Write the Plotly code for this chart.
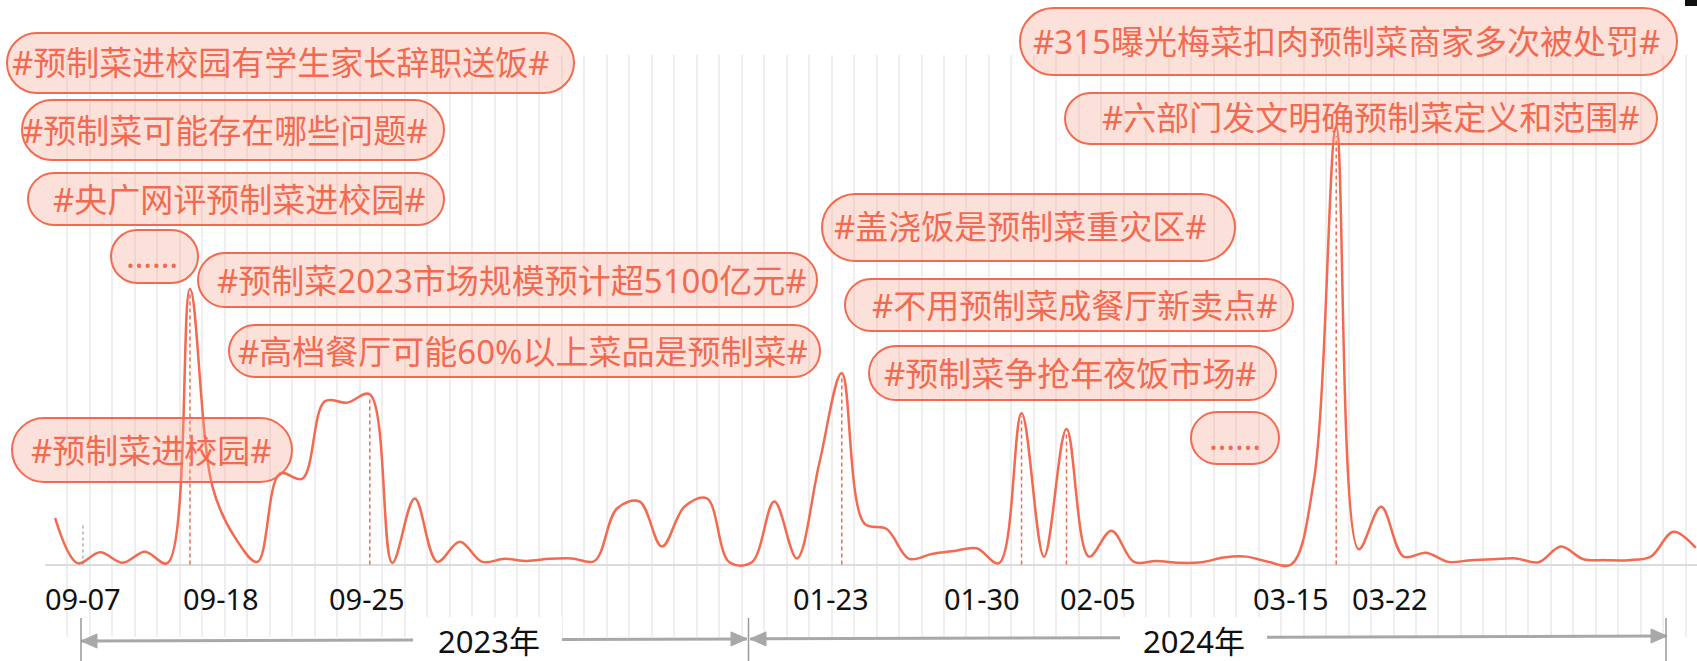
import plotly.graph_objects as go

# ---------------- data ----------------
point_index = list(range(74))
heat_values = [
    10.6, 0.3, 2.8, 0.4, 2.9, 0.3, 63.0, 17.8, 6.2, 0.6,
    20.8, 19.6, 37.3, 37.0, 38.9, 0.4, 15.1, 0.6, 5.2, 0.6,
    1.3, 0.8, 1.3, 1.4, 0.8, 12.8, 14.4, 4.1, 13.2, 15.1,
    0.5, 0.5, 14.4, 1.4, 23.1, 43.7, 9.4, 8.1, 1.3, 2.4,
    3.1, 3.7, 0.3, 34.6, 1.8, 31.0, 1.8, 7.7, 0.6, 0.8,
    0.4, 0.5, 1.6, 1.8, 0.6, 0.0, 19.0, 100.0, 3.5, 13.2,
    1.8, 2.7, 0.6, 1.0, 1.2, 1.4, 0.5, 4.1, 1.2, 1.0,
    1.0, 1.8, 7.5, 3.8,
]
event_index = [6, 14, 35, 43, 45, 57]
tick_labels = ["09-07", "09-18", "09-25", "01-23", "01-30", "02-05", "03-15", "03-22"]
year_labels = ["2023年", "2024年"]
topic_labels = [
    "#预制菜进校园有学生家长辞职送饭#",
    "#预制菜可能存在哪些问题#",
    "#央广网评预制菜进校园#",
    "……",
    "#预制菜2023市场规模预计超5100亿元#",
    "#高档餐厅可能60%以上菜品是预制菜#",
    "#预制菜进校园#",
    "#315曝光梅菜扣肉预制菜商家多次被处罚#",
    "#六部门发文明确预制菜定义和范围#",
    "#盖浇饭是预制菜重灾区#",
    "#不用预制菜成餐厅新卖点#",
    "#预制菜争抢年夜饭市场#",
    "……",
]

# ---------------- layout geometry (pixels) ----------------
W, H = 1697, 661
L, R, T, B = 45, 1697, 55, 637
X_RANGE = [-0.45, 73.054]
Y_RANGE = [-(B - 564.5) * 100 / 437.5, (564.5 - T) * 100 / 437.5]


def px(x):
    return (x - L) / (R - L)


def py(y):
    return (B - y) / (B - T)


# pill boxes: x1, y1, x2, y2, text centre x, text centre y
boxes = [
    (7, 33, 574, 93, 281, 63),
    (22, 100, 444, 160, 225, 130),
    (28, 173, 444, 225, 239, 199),
    (111, 230, 198, 283, 152, 255),
    (198, 253, 817, 307, 512, 280),
    (229, 325, 820, 377, 523, 351),
    (12, 418, 292, 482, 151, 450),
    (1020, 8, 1677, 75, 1346, 41),
    (1065, 93, 1657, 144, 1371, 118),
    (822, 194, 1235, 261, 1021, 227),
    (845, 279, 1293, 331, 1075, 305),
    (869, 346, 1276, 400, 1070, 373),
    (1191, 412, 1279, 464, 1235, 437),
]
tick_px = [83, 220.5, 366.7, 831, 982, 1097.7, 1291, 1390]
year_px = [488.5, 1193.5]

RED = "#F26A4F"
GRAY = "#a8a8a8"
FONT = "Noto Sans, Noto Sans CJK SC, sans-serif"

fig = go.Figure()

# main curve
fig.add_trace(go.Scatter(
    x=point_index, y=heat_values, mode="lines",
    line=dict(color=RED, width=2.5, shape="spline", smoothing=1.0),
    hoverinfo="skip", showlegend=False,
))

# dashed event markers
ex, ey = [], []
for i in event_index:
    ex += [point_index[i], point_index[i], None]
    ey += [0, heat_values[i] * 0.98, None]
fig.add_trace(go.Scatter(
    x=ex, y=ey, mode="lines",
    line=dict(color=RED, width=1.5, dash="4px,3px"),
    hoverinfo="skip", showlegend=False,
))

shapes = []
annotations = []

# gray dotted marker at 09-07
shapes.append(dict(type="line", xref="x", yref="y", x0=1.24, x1=1.24, y0=0, y1=9.5,
                   line=dict(color="#888888", width=1, dash="dot")))


def pill_path(x1, y1, x2, y2):
    r = (y2 - y1) / 2.0
    c = 0.5523 * r
    xl, xr = x1 + r, x2 - r
    ym = (y1 + y2) / 2.0
    pts = []
    pts.append(f"M {px(xl)},{py(y1)}")
    pts.append(f"L {px(xr)},{py(y1)}")
    pts.append(f"C {px(xr + c)},{py(y1)} {px(x2)},{py(ym - c)} {px(x2)},{py(ym)}")
    pts.append(f"C {px(x2)},{py(ym + c)} {px(xr + c)},{py(y2)} {px(xr)},{py(y2)}")
    pts.append(f"L {px(xl)},{py(y2)}")
    pts.append(f"C {px(xl - c)},{py(y2)} {px(x1)},{py(ym + c)} {px(x1)},{py(ym)}")
    pts.append(f"C {px(x1)},{py(ym - c)} {px(xl - c)},{py(y1)} {px(xl)},{py(y1)}")
    pts.append("Z")
    return " ".join(pts)


for (x1, y1, x2, y2, tx, ty), label in zip(boxes, topic_labels):
    shapes.append(dict(type="path", xref="paper", yref="paper", path=pill_path(x1, y1, x2, y2),
                       fillcolor="rgba(247,170,150,0.35)", line=dict(color=RED, width=2)))
    annotations.append(dict(x=px(tx), y=py(ty), xref="paper", yref="paper", text=label,
                            showarrow=False, xanchor="center", yanchor="middle",
                            font=dict(family=FONT, size=33, color=RED)))

# date labels
for xp, lab in zip(tick_px, tick_labels):
    annotations.append(dict(x=px(xp), y=py(598), xref="paper", yref="paper", text=lab,
                            showarrow=False, xanchor="center", yanchor="middle",
                            font=dict(family=FONT, size=29, color="#111111")))


# year range arrows
def ay(x):
    return 641 - 5 * (x - 81) / (1666 - 81)


# white backing behind year labels
for x1, x2 in [(413, 562), (1120, 1267)]:
    shapes.append(dict(type="rect", xref="paper", yref="paper", x0=px(x1), x1=px(x2),
                       y0=py(661), y1=py(617), fillcolor="white", line=dict(width=0)))

for x1, x2 in [(81, 413), (562, 747), (750, 1120), (1267, 1666)]:
    shapes.append(dict(type="line", xref="paper", yref="paper", x0=px(x1), x1=px(x2),
                       y0=py(ay(x1)), y1=py(ay(x2)), line=dict(color=GRAY, width=3)))


def tri(tip, base, yc):
    return (f"M {px(tip)},{py(yc)} L {px(base)},{py(yc - 7)} "
            f"L {px(base)},{py(yc + 7)} Z")


for tip, base in [(81, 97), (747, 731), (750, 766), (1667, 1651)]:
    shapes.append(dict(type="path", xref="paper", yref="paper", path=tri(tip, base, ay(tip)),
                       fillcolor=GRAY, line=dict(color=GRAY, width=1)))

for xb in [81, 748.5, 1666]:
    shapes.append(dict(type="line", xref="paper", yref="paper", x0=px(xb), x1=px(xb),
                       y0=py(618), y1=py(661), line=dict(color="#999999", width=1.5)))

for xp, lab in zip(year_px, year_labels):
    annotations.append(dict(x=px(xp), y=py(641), xref="paper", yref="paper", text=lab,
                            showarrow=False, xanchor="center", yanchor="middle",
                            font=dict(family=FONT, size=31, color="#111111")))

# small dark mark in the top-right corner
shapes.append(dict(type="rect", xref="paper", yref="paper", x0=px(1685), x1=px(1697),
                   y0=py(6), y1=py(0), fillcolor="#111111", line=dict(width=0)))

fig.update_layout(
    width=W, height=H,
    margin=dict(l=L, r=W - R, t=T, b=H - B, pad=0),
    plot_bgcolor="white", paper_bgcolor="white",
    showlegend=False,
    shapes=shapes,
    annotations=annotations,
    xaxis=dict(range=X_RANGE, showgrid=True, gridcolor="#efefef", gridwidth=1.5,
               tick0=-0.45, dtick=1, showticklabels=False, ticks="", zeroline=False,
               showline=False, fixedrange=True),
    yaxis=dict(range=Y_RANGE, showgrid=False, showticklabels=False, ticks="",
               zeroline=True, zerolinecolor="#dcdcdc", zerolinewidth=2,
               showline=False, fixedrange=True),
)

fig.write_html("out.html", config={"displayModeBar": False},
               post_script="document.body.style.margin='0';document.body.style.overflow='hidden';")
